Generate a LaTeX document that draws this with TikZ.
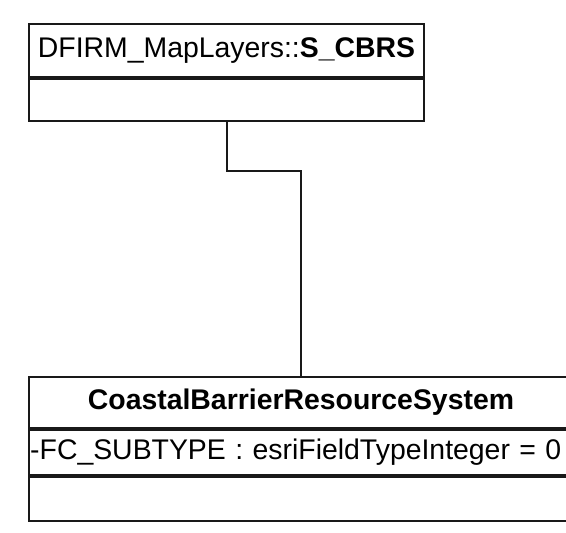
\documentclass[tikz,border=0pt]{standalone}
\usepackage{fontspec}
\setmainfont{Liberation Sans}
\usepackage{xcolor}
\usepackage{tikz}

\tikzset{
    compart/.style={draw=black!90, line width=1pt, rectangle, inner xsep=0.6pt, inner ysep=0pt,
        font=\fontsize{14.2}{17}\selectfont},
    link/.style={draw=black!90, line width=1pt}
}

\begin{document}
\begin{tikzpicture}
    \useasboundingbox (0,0) rectangle (283pt,-266.5pt);
    \begin{scope}
    \clip (0,0) rectangle (283pt,-266.5pt);

    % Upper class box: name and empty operations
    \node[compart, minimum width=197.5pt, minimum height=26.5pt] (cbrsname) at (113.25pt,-25.25pt)
        {DFIRM\_MapLayers::\textbf{S\_CBRS}};
    \node[compart, minimum width=197.5pt, minimum height=21pt, anchor=north] (cbrsops) at (cbrsname.south) {};

    % Lower class box: name, one attribute, empty operations
    \node[compart, minimum width=272pt, minimum height=25.5pt] (cbrsysname) at (150.5pt,-201.25pt)
        {\textbf{CoastalBarrierResourceSystem}};
    \node[compart, text width=270.8pt, align=left, minimum height=22.5pt, anchor=north] (cbrsysattr) at (cbrsysname.south)
        {-FC\_SUBTYPE : esriFieldTypeInteger = 0};
    \node[compart, minimum width=272pt, minimum height=22pt, anchor=north] (cbrsysops) at (cbrsysattr.south) {};

    % Association between the two classes
    \draw[link] (cbrsops.south) -- ++(0,-24.5pt) -| (cbrsysname.north);
    \end{scope}
\end{tikzpicture}
\end{document}
